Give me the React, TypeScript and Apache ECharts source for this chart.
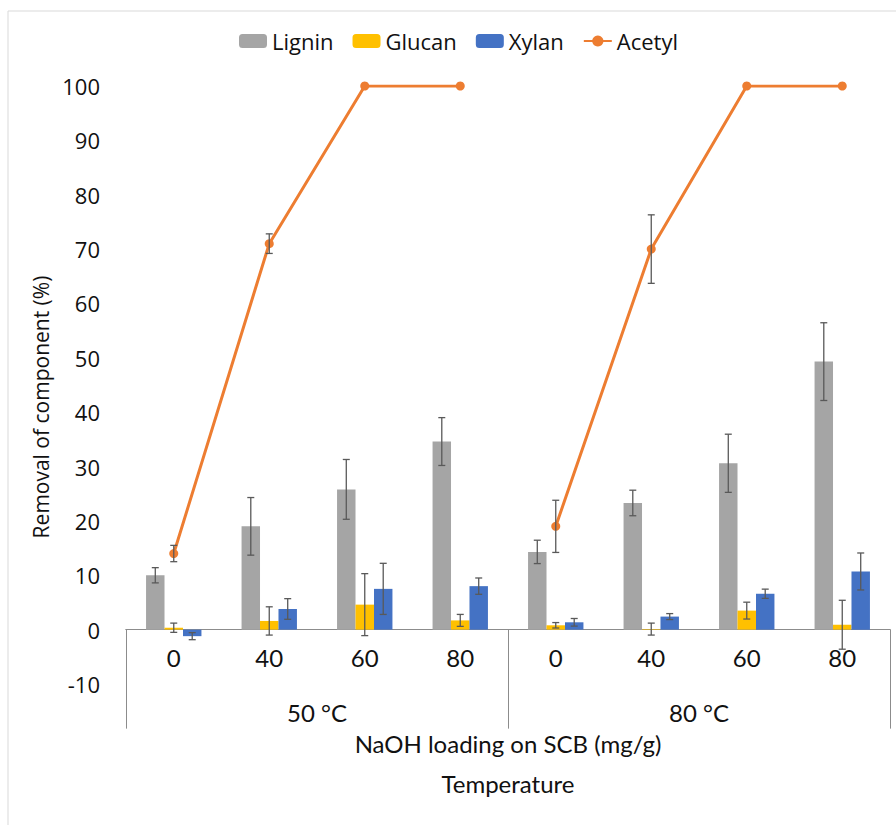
import React, { useEffect, useRef } from "react";
import * as echarts from "echarts";

const categories = ["0", "40", "60", "80", "0", "40", "60", "80"];
const groups = ["50 °C", "80 °C"];
const lignin = [10.0, 19.0, 25.8, 34.6, 14.3, 23.3, 30.6, 49.3];
const ligninErr = [1.4, 5.3, 5.5, 4.4, 2.15, 2.35, 5.35, 7.15];
const glucan = [0.35, 1.6, 4.6, 1.7, 0.8, 0.1, 3.5, 0.9];
const glucanErr = [0.85, 2.6, 5.7, 1.1, 0.5, 1.1, 1.55, 4.5];
const xylan = [-1.2, 3.8, 7.5, 8.0, 1.35, 2.4, 6.6, 10.7];
const xylanErr = [0.65, 1.9, 4.7, 1.5, 0.7, 0.55, 0.85, 3.4];
const acetyl = [14.0, 71.0, 100, 100, 19.0, 70.0, 100, 100];
const acetylErr = [1.5, 1.8, 0, 0, 4.8, 6.3, 0, 0];

const Y_MIN = -10;
const Y_MAX = 100;
const COLORS = { lignin: "#A5A5A5", glucan: "#FFC000", xylan: "#4472C4", acetyl: "#ED7D31" };
const CAT_GAP = 0.42;
const SANS = "'Open Sans', sans-serif";
const NARROW = "Lato, sans-serif";
const GRID = { left: 126, right: 6, top: 86, bottom: 141 };
const H = 825;

function errData(vals: number[], errs: number[], slot: number) {
  return vals.map((v, i) => [i, v, errs[i], slot]).filter((d) => d[2] > 0);
}

function errSeries(name: string, data: number[][]) {
  return {
    type: "custom",
    name,
    xAxisIndex: 0,
    z: 10,
    silent: true,
    data,
    renderItem: (params: any, api: any) => {
      const x = api.value(0);
      const v = api.value(1);
      const e = api.value(2);
      const slot = api.value(3);
      const band = api.size([1, 0])[0];
      const barW = (band * (1 - CAT_GAP)) / 3;
      const off = slot === 99 ? 0 : (slot - 1) * barW;
      const top = api.coord([x, v + e]);
      const bot = api.coord([x, v - e]);
      const cx = top[0] + off;
      const cap = 3.5;
      const style = { stroke: "#595959", lineWidth: 1.3 };
      return {
        type: "group",
        children: [
          { type: "line", shape: { x1: cx, y1: top[1], x2: cx, y2: bot[1] }, style },
          { type: "line", shape: { x1: cx - cap, y1: top[1], x2: cx + cap, y2: top[1] }, style },
          { type: "line", shape: { x1: cx - cap, y1: bot[1], x2: cx + cap, y2: bot[1] }, style },
        ],
      };
    },
  };
}

export default function App() {
  const ref = useRef<HTMLDivElement>(null);
  useEffect(() => {
    document.body.style.margin = "0";
    const chart = echarts.init(ref.current!, null, { renderer: "svg" });
    const gridH = H - GRID.top - GRID.bottom;
    const zeroOffset = -(gridH * (0 - Y_MIN)) / (Y_MAX - Y_MIN);
    const half = acetyl.map((v, i) => (i < 4 ? v : "-"));
    const half2 = acetyl.map((v, i) => (i >= 4 ? v : "-"));
    const lineCommon = {
      type: "line",
      name: "Acetyl",
      xAxisIndex: 0,
      z: 5,
      symbol: "circle",
      symbolSize: 9,
      lineStyle: { color: COLORS.acetyl, width: 3 },
      itemStyle: { color: COLORS.acetyl },
      connectNulls: false,
    };
    chart.setOption({
      animation: false,
      backgroundColor: "#ffffff",
      graphic: [
        {
          type: "rect",
          shape: { x: 8, y: 11, width: 900, height: 830 },
          style: { fill: "none", stroke: "#d9d9d9", lineWidth: 1 },
          silent: true,
        },
      ],
      legend: {
        data: ["Lignin", "Glucan", "Xylan", "Acetyl"],
        left: 239,
        top: 30,
        padding: 0,
        itemWidth: 28,
        itemHeight: 14,
        itemGap: 19,
        textStyle: { fontFamily: SANS, fontSize: 22, color: "#111" },
      },
      grid: { ...GRID, containLabel: false, outerBoundsMode: "none" },
      xAxis: [
        {
          type: "category",
          data: categories,
          position: "bottom",
          offset: zeroOffset,
          axisLine: { onZero: false, lineStyle: { color: "#8c8c8c", width: 1 } },
          axisTick: { show: false },
          axisLabel: { margin: 16, fontFamily: NARROW, fontSize: 24, color: "#111", interval: 0 },
          name: "NaOH loading on SCB (mg/g)",
          nameLocation: "middle",
          nameGap: 102,
          nameTextStyle: { fontFamily: NARROW, fontSize: 24, color: "#111" },
        },
        {
          type: "category",
          data: groups,
          position: "bottom",
          offset: zeroOffset,
          axisLine: { onZero: false, lineStyle: { color: "#8c8c8c", width: 1 } },
          axisTick: { show: true, length: 99, lineStyle: { color: "#8c8c8c", width: 1 } },
          axisLabel: { margin: 71, fontFamily: NARROW, fontSize: 24, color: "#111" },
          name: "Temperature",
          nameLocation: "middle",
          nameGap: 142,
          nameTextStyle: { fontFamily: NARROW, fontSize: 24, color: "#111" },
        },
      ],
      yAxis: {
        type: "value",
        min: Y_MIN,
        max: Y_MAX,
        interval: 10,
        axisLine: { show: false },
        axisTick: { show: false },
        splitLine: { show: false },
        axisLabel: { margin: 26, fontFamily: SANS, fontSize: 22, color: "#111" },
        name: "Removal of component (%)",
        nameLocation: "middle",
        nameGap: 70,
        nameTextStyle: { fontFamily: SANS, fontSize: 21, color: "#111", padding: [0, 44, 0, 0] },
      },
      series: [
        { type: "bar", name: "Lignin", data: lignin, xAxisIndex: 0, barGap: "0%", barCategoryGap: "42%", itemStyle: { color: COLORS.lignin } },
        { type: "bar", name: "Glucan", data: glucan, xAxisIndex: 0, barGap: "0%", barCategoryGap: "42%", itemStyle: { color: COLORS.glucan } },
        { type: "bar", name: "Xylan", data: xylan, xAxisIndex: 0, barGap: "0%", barCategoryGap: "42%", itemStyle: { color: COLORS.xylan } },
        { ...lineCommon, data: half },
        { ...lineCommon, data: half2 },
        errSeries("errLignin", errData(lignin, ligninErr, 0)),
        errSeries("errGlucan", errData(glucan, glucanErr, 1)),
        errSeries("errXylan", errData(xylan, xylanErr, 2)),
        errSeries("errAcetyl", errData(acetyl, acetylErr, 99)),
      ],
    });
    return () => chart.dispose();
  }, []);
  return <div ref={ref} style={{ width: 896, height: 825 }} />;
}
